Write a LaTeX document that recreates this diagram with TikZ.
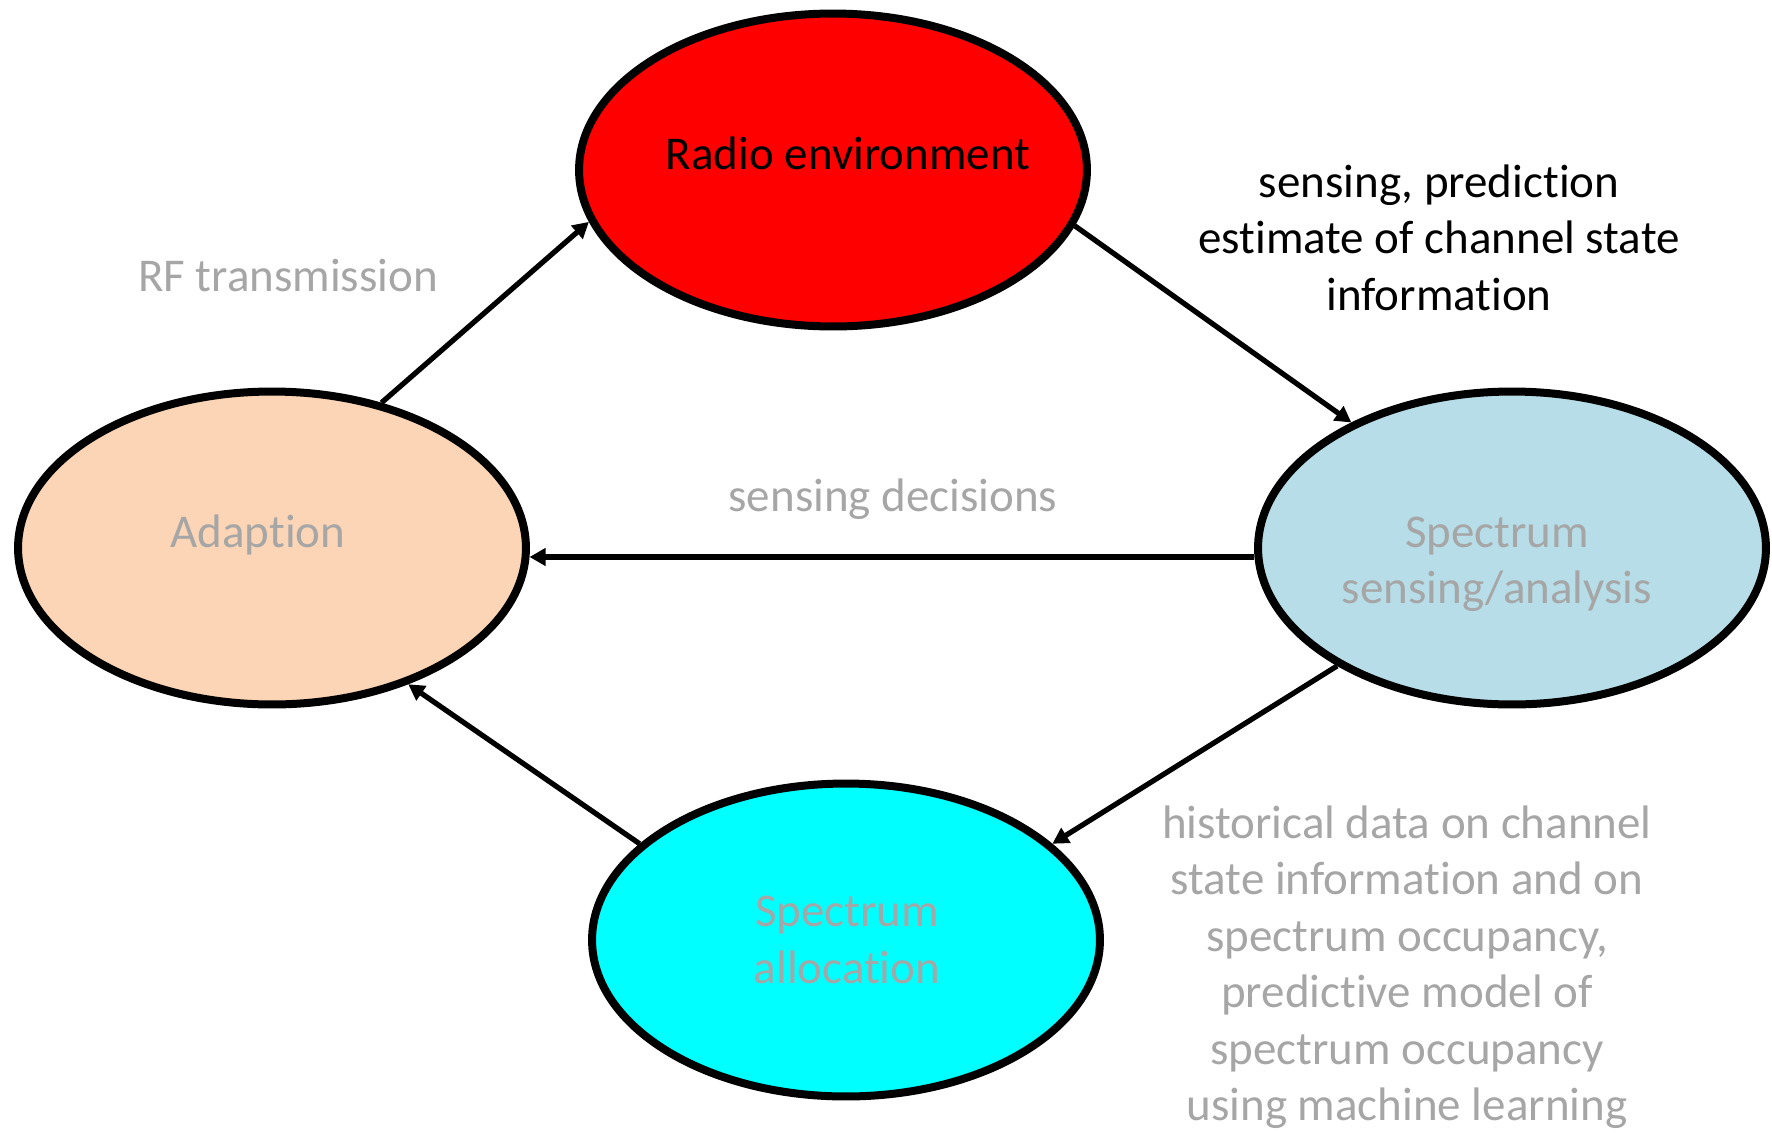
\documentclass[tikz,border=0pt]{standalone}
\usepackage{fontspec}
\setmainfont[RawFeature={-liga;-clig;-dlig}]{Carlito}
\usetikzlibrary{arrows.meta,shapes.geometric}
\definecolor{peach}{HTML}{FBD5B5}
\definecolor{lblue}{HTML}{B7DEE8}
\definecolor{aqua}{HTML}{00FFFF}
\definecolor{txtgray}{HTML}{A6A6A6}
\begin{document}
\begin{tikzpicture}[x={(0.02cm,0)}, y={(0,-0.02cm)},
  ell/.style={ellipse, draw=black, line width=0.16cm, minimum width=10.16cm, minimum height=6.26cm, inner sep=0pt},
  lbl/.style={font=\fontsize{26.75pt}{32.15pt}\selectfont, align=center, inner sep=0pt, anchor=base},
  conn/.style={line width=0.105cm, -{Triangle[length=0.32cm,width=0.34cm]}}]
\useasboundingbox (0,0) rectangle (1772,1133);
\clip (0,0) rectangle (1772,1133);
% ellipses
\node[ell, fill=red] (radio) at (833,170) {};
\node[ell, fill=peach] (adapt) at (272,548) {};
\node[ell, fill=lblue] (sense) at (1512,548) {};
\node[ell, fill=aqua] (alloc) at (846,940) {};
% node texts (base = baseline of the last line)
\node[lbl] (radiot) at (848,169) {Radio environment};
\node[lbl, text=txtgray] (adaptt) at (258,547) {Adaption};
\node[lbl, text=txtgray] (senset) at (1497,603.5) {Spectrum\\sensing/analysis};
\node[lbl, text=txtgray] (alloct) at (847,983) {Spectrum\\allocation};
% connector labels
\node[lbl, text=txtgray] (rflbl) at (288,291) {RF transmission};
\node[lbl] (senselbl) at (1439,310) {sensing, prediction\\estimate of channel state\\information};
\node[lbl, text=txtgray] (declbl) at (893,511) {sensing decisions};
\node[lbl, text=txtgray] (histlbl) at (1407,1120.5) {historical data on channel\\state information and on\\spectrum occupancy,\\predictive model of\\spectrum occupancy\\using machine learning};
% connectors
\draw[conn] (adapt.53) -- (radio.192);
\draw[conn] (radio.-13) -- (sense.142);
\draw[conn] (sense.182) -- (adapt.-2);
\draw[conn] (sense.214) -- (alloc.25);
\draw[conn] (alloc.155) -- (adapt.-45);
\end{tikzpicture}
\end{document}
